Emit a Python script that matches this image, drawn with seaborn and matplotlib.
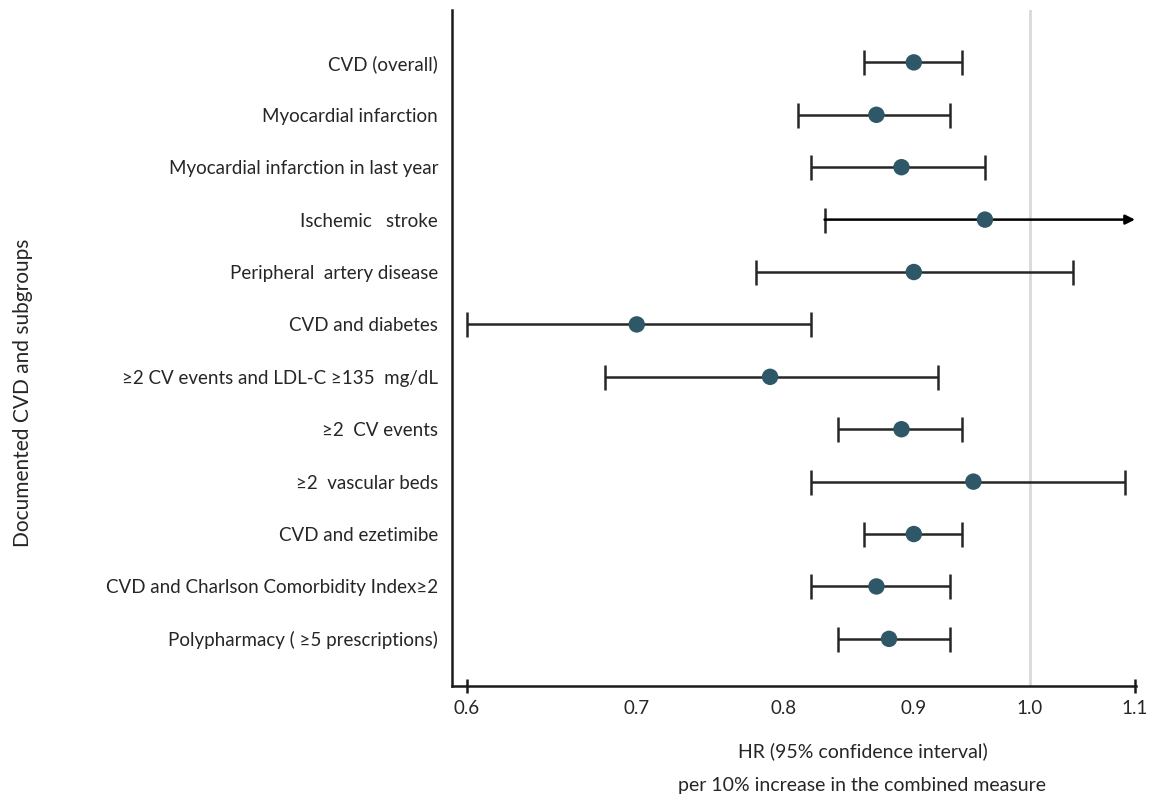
import numpy as np
import pandas as pd
import matplotlib
matplotlib.use("Agg")
import matplotlib.pyplot as plt
from matplotlib.ticker import NullLocator
import seaborn as sns

labels = [
    "CVD (overall)",
    "Myocardial infarction",
    "Myocardial infarction in last year",
    "Ischemic   stroke",
    "Peripheral  artery disease",
    "CVD and diabetes",
    "≥2 CV events and LDL-C ≥135  mg/dL",
    "≥2  CV events",
    "≥2  vascular beds",
    "CVD and ezetimibe",
    "CVD and Charlson Comorbidity Index≥2",
    "Polypharmacy ( ≥5 prescriptions)",
]
hr = [0.90, 0.87, 0.89, 0.96, 0.90, 0.70, 0.79, 0.89, 0.95, 0.90, 0.87, 0.88]
ci_low = [0.86, 0.81, 0.82, 0.83, 0.78, 0.60, 0.68, 0.84, 0.82, 0.86, 0.82, 0.84]
ci_high = [0.94, 0.93, 0.96, np.nan, 1.04, 0.82, 0.92, 0.94, 1.09, 0.94, 0.93, 0.93]
x_ticks = [0.6, 0.7, 0.8, 0.9, 1.0, 1.1]

df = pd.DataFrame({"label": labels, "hr": hr, "lo": ci_low, "hi": ci_high})
df["row"] = np.arange(len(df))

sns.set_style("white")
plt.rcParams["font.family"] = ["Lato", "DejaVu Sans"]

fig = plt.figure(figsize=(11.49, 7.99), dpi=100)
ax = fig.add_axes([0.3934, 0.1414, 0.5953, 0.8461])

ax.axvline(1.0, color="#d9d9d9", lw=2, zorder=0)

line_col = "#262626"
ok = df[df["hi"].notna()]
ax.errorbar(ok["hr"], ok["row"],
            xerr=[ok["hr"] - ok["lo"], ok["hi"] - ok["hr"]],
            fmt="none", ecolor=line_col, elinewidth=1.8, capsize=9, capthick=1.8, zorder=2)

# open-ended interval: cap at the lower end, arrow to the right edge
op = df[df["hi"].isna()]
ax.plot(op["lo"], op["row"], ls="none", marker="|", ms=18, mew=1.8, color=line_col, zorder=2)
for _, r in op.iterrows():
    ax.annotate("", xy=(x_ticks[-1], r["row"]), xytext=(r["lo"], r["row"]),
                arrowprops=dict(arrowstyle="-|>", color="black", lw=1.8,
                                mutation_scale=14, shrinkA=0, shrinkB=0), zorder=2)

sns.scatterplot(data=df, x="hr", y="row", ax=ax, s=140, color="#2e5867",
                edgecolor="none", zorder=3, legend=False)

ax.set_xscale("log")
ax.set_xlim(0.592, 1.101)
ax.set_xticks(x_ticks)
ax.set_xticklabels([f"{t:.1f}" for t in x_ticks], fontsize=13.5)
ax.xaxis.set_minor_locator(NullLocator())
ax.tick_params(axis="x", length=0, pad=10)
# small end ticks at the axis ends only
ax.plot([x_ticks[0], x_ticks[-1]], [0, 0], ls="none", marker="|", ms=10, mew=1.8,
        color="#1a1a1a", transform=ax.get_xaxis_transform(), clip_on=False)

ax.set_ylim(11.9, -1.0)
ax.set_yticks(df["row"])
ax.set_yticklabels(df["label"], fontsize=13.5)
ax.tick_params(axis="y", length=0, pad=10)

for s in ["top", "right"]:
    ax.spines[s].set_visible(False)
for s in ["left", "bottom"]:
    ax.spines[s].set_color("#1a1a1a")
    ax.spines[s].set_linewidth(1.8)

ax.set_xlabel("HR (95% confidence interval)\n\nper 10% increase in the combined measure",
              fontsize=14, linespacing=1.0)
ax.xaxis.set_label_coords(0.60, -0.083, transform=ax.transAxes)
ax.xaxis.label.set_va("top")
ax.set_ylabel("Documented CVD and subgroups", fontsize=15)
ax.yaxis.set_label_coords(-0.612, 0.433)

fig.savefig("out.png", dpi=100)
